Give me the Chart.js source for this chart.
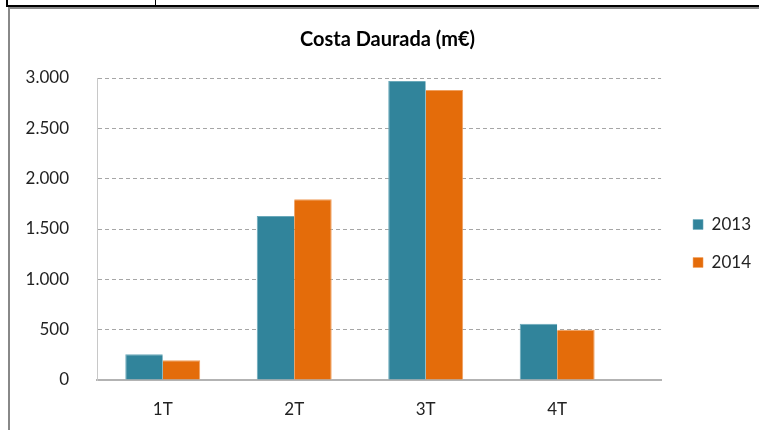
<!DOCTYPE html>
<html>
<head>
<meta charset="utf-8">
<script src="https://cdn.jsdelivr.net/npm/chart.js@4/dist/chart.umd.min.js"></script>
<style>
    body { margin: 0; background: #fff; width: 759px; height: 430px; overflow: hidden; position: relative; }
    .line { position: absolute; }
    #chart-box { position: absolute; left: 9px; top: 9px; }
</style>
</head>
<body>
<!-- bits of the table row above the chart -->
<div class="line" style="left:6px;top:0;width:2px;height:7px;background:#000"></div>
<div class="line" style="left:155px;top:0;width:1px;height:7px;background:#000"></div>
<div class="line" style="left:6px;top:5px;width:753px;height:2px;background:#000"></div>
<div class="line" style="left:8px;top:7px;width:751px;height:2px;background:#888"></div>
<div class="line" style="left:8px;top:7px;width:2px;height:423px;background:#888"></div>
<div id="chart-box"><canvas id="cd-canvas" width="749" height="421"></canvas></div>
<script>
const quarters = ["1T", "2T", "3T", "4T"];
const values2013 = [255, 1630, 2970, 560];
const values2014 = [195, 1795, 2880, 500];
const yTicks = [0, 500, 1000, 1500, 2000, 2500, 3000];

function formatNumber(n) {
    return Number(n).toLocaleString("de-DE");
}

// x is a linear scale so the groups can sit a bit left like in the excel chart
function toPoints(values) {
    return values.map((v, i) => ({ x: i, y: v }));
}

// nudge legend and title, Excel puts them lower / further right than chart.js does
const layoutNudge = {
    id: "layoutNudge",
    afterLayout(chart) {
        chart.legend.top += 29;
        chart.legend.bottom += 29;
        chart.legend.left += 11;
        chart.legend.right += 11;
        chart.titleBlock.left += 8;
        chart.titleBlock.right += 8;
    },
};

const data = {
    datasets: [
        {
            label: "2013",
            data: toPoints(values2013),
            backgroundColor: "#31849B",
            borderColor: "#6aa9ba",
            borderWidth: { top: 1, left: 1, right: 0, bottom: 0 },
        },
        {
            label: "2014",
            data: toPoints(values2014),
            backgroundColor: "#E46C0A",
            borderColor: "#f0a060",
            borderWidth: { top: 1, left: 0, right: 1, bottom: 0 },
        },
    ],
};

const config = {
    type: "bar",
    data: data,
    options: {
        responsive: false,
        animation: false,
        layout: {
            padding: { left: 0, right: 8, top: 0, bottom: 10 },
        },
        datasets: {
            bar: {
                categoryPercentage: 0.57,
                barPercentage: 1,
            },
        },
        plugins: {
            title: {
                display: true,
                text: "Costa Daurada (m€)",
                color: "#000",
                font: { family: "Lato", size: 20, weight: "bold" },
                padding: { top: 19, bottom: 26 },
            },
            legend: {
                position: "right",
                labels: {
                    boxWidth: 10,
                    boxHeight: 10,
                    color: "#222",
                    font: { family: "Lato", size: 17 },
                    padding: 21,
                },
            },
            tooltip: { enabled: false },
        },
        scales: {
            x: {
                type: "linear",
                offset: false,
                min: -0.5,
                max: 3.79,
                afterBuildTicks(axis) {
                    axis.ticks = quarters.map((q, i) => ({ value: i }));
                },
                afterFit(axis) {
                    axis.height = 40;
                },
                grid: { display: false, drawTicks: false },
                border: { color: "#b3b3b3", width: 2 },
                ticks: {
                    color: "#222",
                    font: { family: "Lato", size: 17 },
                    padding: 19,
                    maxRotation: 0,
                    callback: (v) => quarters[v],
                },
            },
            y: {
                min: 0,
                max: 3000,
                afterBuildTicks(axis) {
                    axis.ticks = yTicks.map((v) => ({ value: v }));
                },
                afterFit(axis) {
                    axis.width = 88;
                },
                grid: {
                    color: "#a6a6a6",
                    drawTicks: false,
                },
                border: { color: "#c8c8c8", width: 1, dash: [4, 3] },
                ticks: {
                    color: "#222",
                    font: { family: "Lato", size: 17 },
                    padding: 28,
                    callback: (v) => formatNumber(v),
                },
            },
        },
    },
    plugins: [layoutNudge],
};

const canvas = document.querySelector("#cd-canvas");
const myChart = new Chart(canvas, config);
</script>
</body>
</html>
